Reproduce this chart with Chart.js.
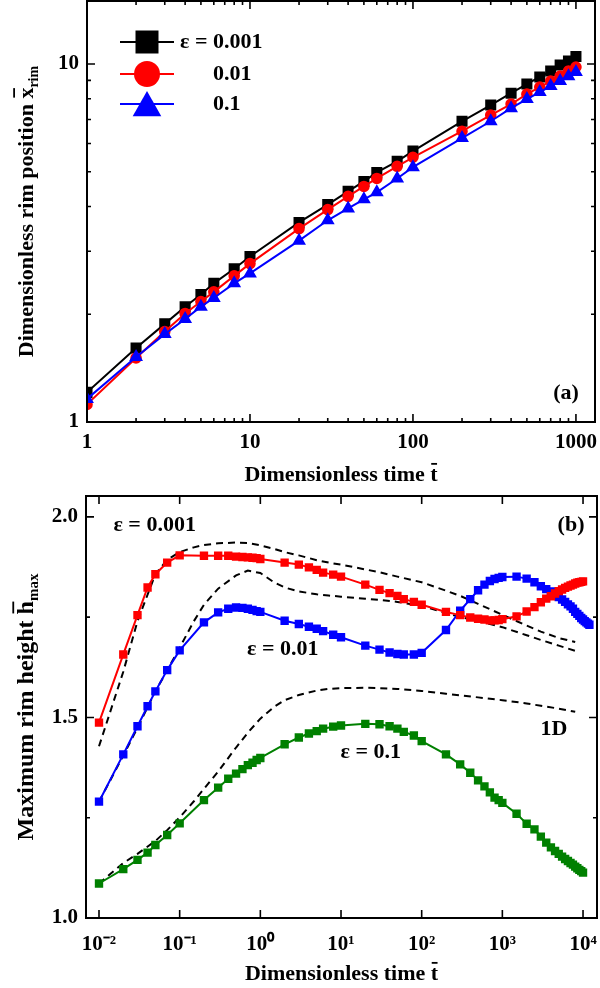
<!DOCTYPE html>
<html>
<head>
<meta charset="utf-8">
<script src="https://cdn.jsdelivr.net/npm/chart.js@4.4.1/dist/chart.umd.min.js"></script>
<style>
  html, body { margin: 0; padding: 0; background: #fff; }
  #wrap { position: relative; width: 600px; height: 988px; }
  canvas { position: absolute; left: 0; }
  #cA { top: 0; }
  #cB { top: 495px; }
</style>
</head>
<body>
<div id="wrap">
  <canvas id="cA" width="600" height="495"></canvas>
  <canvas id="cB" width="600" height="493"></canvas>
</div>
<script>
const FONT = '"Liberation Serif", "Times New Roman", serif';

// ---- panel (a): rim position vs time ----
const tA = [1, 2, 3, 4, 5, 6, 8, 10, 20, 30, 40, 50, 60, 80, 100, 200, 300, 400, 500, 600, 700, 800, 900, 1000];
const xrim001 = [1.21, 1.61, 1.88, 2.10, 2.27, 2.44, 2.68, 2.90, 3.61, 4.05, 4.41, 4.70, 4.98, 5.35, 5.71, 6.92, 7.68, 8.29, 8.79, 9.20, 9.56, 9.94, 10.2, 10.5];
const xrim01 = [1.12, 1.51, 1.79, 2.01, 2.17, 2.31, 2.56, 2.77, 3.47, 3.92, 4.27, 4.55, 4.79, 5.18, 5.49, 6.49, 7.20, 7.73, 8.24, 8.62, 8.96, 9.25, 9.56, 9.81];
const xrim1 = [1.16, 1.52, 1.76, 1.94, 2.10, 2.22, 2.44, 2.60, 3.21, 3.66, 3.95, 4.19, 4.38, 4.79, 5.15, 6.21, 6.92, 7.53, 7.98, 8.35, 8.68, 8.96, 9.25, 9.50];
const epsA = ['0.001', '0.01', '0.1'];
const tTicksA = [1, 10, 100, 1000];
const tLabelsA = ['1', '10', '100', '1000'];
const yTicksA = [1, 10];
const yLabelsA = ['1', '10'];

// ---- panel (b): max rim height vs time ----
const tB = [0.01, 0.02, 0.03, 0.04, 0.05, 0.07, 0.1, 0.2, 0.3, 0.4, 0.5, 0.6, 0.7, 0.8, 0.9, 1,
  2, 3, 4, 5, 6, 8, 10, 20, 30, 40, 50, 60, 80, 100, 200, 300, 400, 500, 600, 700, 800, 900, 1000,
  1500, 2000, 2500, 3000, 3500, 4000, 4500, 5000, 5500, 6000, 6500, 7000, 7500, 8000, 8500, 9000, 9500, 10000,
  10500, 11000, 11500, 12000];
const hmax001 = [1.487, 1.657, 1.755, 1.824, 1.857, 1.886, 1.904, 1.903, 1.903, 1.903, 1.901, 1.900, 1.899, 1.898, 1.897, 1.895,
  1.886, 1.881, 1.874, 1.868, 1.861, 1.856, 1.851, 1.831, 1.818, 1.810, 1.803, 1.795, 1.788, 1.781,
  1.763, 1.755, 1.749, 1.746, 1.744, 1.742, 1.742, 1.743, 1.745,
  1.752, 1.764, 1.775, 1.787, 1.796, 1.802, 1.809, 1.815, 1.819, 1.823, 1.826, 1.829, 1.831, 1.834, 1.836, 1.837, 1.838, 1.839];
const hmax01 = [1.290, 1.408, 1.478, 1.528, 1.565, 1.618, 1.667, 1.737, 1.762, 1.771, 1.774, 1.773, 1.771, 1.768, 1.765, 1.763,
  1.741, 1.733, 1.726, 1.721, 1.715, 1.706, 1.700, 1.679, 1.669, 1.662, 1.658, 1.657, 1.657, 1.661,
  1.718, 1.766, 1.795, 1.817, 1.831, 1.840, 1.845, 1.848, 1.850,
  1.851, 1.846, 1.837, 1.827, 1.820, 1.814, 1.807, 1.800, 1.794, 1.788, 1.782, 1.777, 1.771, 1.763, 1.758, 1.753, 1.748, 1.744,
  1.740, 1.737, 1.734, 1.731];
const hmax1 = [1.086, 1.122, 1.145, 1.163, 1.182, 1.207, 1.236, 1.294, 1.325, 1.347, 1.360, 1.371, 1.381, 1.387, 1.394, 1.399,
  1.433, 1.450, 1.460, 1.466, 1.472, 1.477, 1.480, 1.484, 1.483, 1.478, 1.472, 1.464, 1.455, 1.441,
  1.408, 1.383, 1.362, 1.343, 1.328, 1.313, 1.300, 1.294, 1.287,
  1.260, 1.235, 1.221, 1.203, 1.188, 1.176, 1.167, 1.160, 1.153, 1.147, 1.142, 1.137, 1.133, 1.128, 1.124, 1.120, 1.117, 1.113];
// 1D reference curves (dashed)
const tD = [0.01, 0.02, 0.03, 0.05, 0.07, 0.1, 0.15, 0.2, 0.3, 0.5, 0.7, 1, 1.5, 2, 3, 5, 7, 10, 20, 30, 50, 100, 200, 300, 500, 1000, 2000, 3000, 5000, 8000];
const h1D001 = [1.428, 1.614, 1.740, 1.857, 1.893, 1.912, 1.924, 1.930, 1.934, 1.936, 1.935, 1.929, 1.920, 1.912, 1.904, 1.892, 1.886, 1.881, 1.869, 1.862, 1.851, 1.837, 1.816, 1.803, 1.783, 1.756, 1.729, 1.714, 1.698, 1.688];
const h1D01 = [1.290, 1.405, 1.474, 1.565, 1.617, 1.674, 1.740, 1.781, 1.821, 1.854, 1.866, 1.860, 1.836, 1.824, 1.814, 1.807, 1.804, 1.801, 1.796, 1.793, 1.788, 1.778, 1.760, 1.750, 1.741, 1.725, 1.705, 1.693, 1.679, 1.666];
const h1D1 = [1.086, 1.137, 1.160, 1.192, 1.219, 1.251, 1.291, 1.322, 1.365, 1.425, 1.462, 1.497, 1.527, 1.543, 1.556, 1.567, 1.571, 1.573, 1.574, 1.573, 1.571, 1.566, 1.559, 1.555, 1.550, 1.543, 1.535, 1.529, 1.522, 1.514];
const tTicksB = [0.01, 0.1, 1, 10, 100, 1000, 10000];
const tLabelsB = ['10⁻²', '10⁻¹', '10⁰', '10¹', '10²', '10³', '10⁴'];
const yTicksB = [1.0, 1.5, 2.0];
const yLabelsB = ['1.0', '1.5', '2.0'];
const yMinorB = [1.25, 1.75];

const pts = (xs, ys) => ys.map((y, i) => ({ x: xs[i], y }));
const decadeMinors = decades => decades.flatMap(d => [2, 3, 4, 5, 6, 7, 8, 9].map(k => k * d));

// draws frame, inward ticks, axis titles, legend and text notes
const framePlugin = {
  id: 'frame',
  afterDraw(chart, args, o) {
    const { ctx, chartArea: a, scales } = chart;
    ctx.save();
    ctx.strokeStyle = '#000';
    ctx.fillStyle = '#000';
    ctx.lineWidth = 1.6;
    const xMarks = (vals, len) => vals.forEach(v => {
      const px = scales.x.getPixelForValue(v);
      if (px < a.left - 0.5 || px > a.right + 0.5) return;
      ctx.beginPath();
      ctx.moveTo(px, a.bottom); ctx.lineTo(px, a.bottom - len);
      ctx.moveTo(px, a.top); ctx.lineTo(px, a.top + len);
      ctx.stroke();
    });
    const yMarks = (vals, len) => vals.forEach(v => {
      const py = scales.y.getPixelForValue(v);
      if (py < a.top - 0.5 || py > a.bottom + 0.5) return;
      ctx.beginPath();
      ctx.moveTo(a.left, py); ctx.lineTo(a.left + len, py);
      ctx.moveTo(a.right, py); ctx.lineTo(a.right - len, py);
      ctx.stroke();
    });
    xMarks(o.xMajor, 8); xMarks(o.xMinor, 4);
    yMarks(o.yMajor, 8); yMarks(o.yMinor, 4);
    ctx.lineWidth = 2;
    ctx.strokeRect(a.left, a.top, a.right - a.left, a.bottom - a.top);

    richText(ctx, o.xTitle, (a.left + a.right) / 2, o.xTitleY, false);
    richText(ctx, o.yTitle, o.yTitleX, (a.top + a.bottom) / 2, true);

    ctx.font = 'bold 22px ' + FONT;
    ctx.textBaseline = 'middle';
    ctx.textAlign = 'center';
    (o.notes || []).forEach(n => {
      const x = n.t != null ? scales.x.getPixelForValue(n.t) : a.right - n.dr;
      const y = n.v != null ? scales.y.getPixelForValue(n.v) : a.bottom - n.db;
      ctx.fillText(n.text, x, y);
    });

    if (o.legend) drawLegend(chart, o.legend);
    ctx.restore();
  }
};

function richText(ctx, parts, cx, cy, rotate) {
  ctx.save();
  ctx.translate(cx, cy);
  if (rotate) ctx.rotate(-Math.PI / 2);
  ctx.textAlign = 'left';
  ctx.textBaseline = 'alphabetic';
  let w = 0;
  parts.forEach(p => {
    ctx.font = 'bold ' + p.size + 'px ' + FONT;
    p.w = ctx.measureText(p.text).width;
    w += p.w;
  });
  let x = -w / 2;
  parts.forEach(p => {
    ctx.font = 'bold ' + p.size + 'px ' + FONT;
    ctx.fillText(p.text, x, p.dy || 0);
    if (p.bar) ctx.fillRect(x + 1, -p.size * p.bar, p.w - 1.5, 1.8);
    x += p.w;
  });
  ctx.restore();
}

function drawMarker(ctx, style, x, y, r) {
  ctx.beginPath();
  if (style === 'rect') {
    ctx.rect(x - r, y - r, 2 * r, 2 * r);
  } else if (style === 'circle') {
    ctx.arc(x, y, r, 0, Math.PI * 2);
  } else {
    ctx.moveTo(x, y - r);
    ctx.lineTo(x + r * 1.1, y + r * 0.95);
    ctx.lineTo(x - r * 1.1, y + r * 0.95);
    ctx.closePath();
  }
  ctx.fill();
}

function drawLegend(chart, lg) {
  const { ctx, chartArea: a } = chart;
  ctx.font = 'bold 22px ' + FONT;
  ctx.textBaseline = 'middle';
  ctx.textAlign = 'left';
  const prefix = 'ε = ';
  const numX = a.left + lg.textLeft + ctx.measureText(prefix).width;
  chart.data.datasets.forEach((ds, i) => {
    const y = a.top + lg.rows[i];
    ctx.strokeStyle = ds.borderColor;
    ctx.fillStyle = ds.borderColor;
    ctx.lineWidth = 2;
    ctx.beginPath();
    ctx.moveTo(a.left + lg.lineFrom, y);
    ctx.lineTo(a.left + lg.lineTo, y);
    ctx.stroke();
    drawMarker(ctx, ds.pointStyle, a.left + (lg.lineFrom + lg.lineTo) / 2, y, lg.sizes[i]);
    ctx.fillStyle = '#000';
    if (i === 0) ctx.fillText(prefix, a.left + lg.textLeft, y);
    ctx.fillText(epsA[i], numX, y);
  });
}

const tickFont = { family: FONT, size: 21, weight: 'bold' };

function logX(min, max, ticks, labels, pad, height) {
  return {
    type: 'logarithmic', min, max,
    grid: { display: false, drawTicks: false }, border: { display: false },
    afterBuildTicks: s => { s.ticks = ticks.map(v => ({ value: v })); },
    ticks: { autoSkip: false, maxRotation: 0, padding: pad, color: '#000', font: tickFont,
      callback: (v, i) => labels[i] },
    afterFit: s => { s.height = height; s.paddingLeft = 0; s.paddingRight = 0; }
  };
}
function yAxis(type, min, max, ticks, labels, width) {
  return {
    type, min, max,
    grid: { display: false, drawTicks: false }, border: { display: false },
    afterBuildTicks: s => { s.ticks = ticks.map(v => ({ value: v })); },
    ticks: { autoSkip: false, padding: 8, color: '#000', font: tickFont,
      callback: (v, i) => labels[i] },
    afterFit: s => { s.width = width; s.paddingTop = 0; s.paddingBottom = 0; }
  };
}

const common = {
  responsive: false, animation: false, devicePixelRatio: 1,
  events: [],
  plugins: { legend: { display: false }, tooltip: { enabled: false } }
};

new Chart(document.getElementById('cA'), {
  type: 'line',
  data: {
    datasets: [
      { label: 'ε = 0.001', data: pts(tA, xrim001), borderColor: '#000000', backgroundColor: '#000000',
        pointStyle: 'rect', pointRadius: 6.4, borderWidth: 2, order: 2 },
      { label: 'ε = 0.01', data: pts(tA, xrim01), borderColor: '#ff0000', backgroundColor: '#ff0000',
        pointStyle: 'circle', pointRadius: 4.8, borderWidth: 2, order: 1 },
      { label: 'ε = 0.1', data: pts(tA, xrim1), borderColor: '#0000ff', backgroundColor: '#0000ff',
        pointStyle: 'triangle', pointRadius: 6, borderWidth: 2, order: 0 }
    ]
  },
  options: {
    ...common,
    layout: { autoPadding: false, padding: { top: 1, right: 5, left: 0, bottom: 0 } },
    scales: {
      x: logX(1, 1309, tTicksA, tLabelsA, 8, 73),
      y: yAxis('logarithmic', 1, 15, yTicksA, yLabelsA, 87)
    },
    plugins: {
      ...common.plugins,
      frame: {
        xMajor: tTicksA, xMinor: decadeMinors([1, 10, 100]),
        yMajor: yTicksA, yMinor: decadeMinors([1]),
        xTitle: [{ text: 'Dimensionless time ', size: 22 }, { text: 't', size: 22, bar: 0.82 }],
        xTitleY: 481,
        yTitle: [{ text: 'Dimensionless rim position ', size: 22 }, { text: 'x', size: 22, bar: 0.9 },
                 { text: 'rim', size: 14, dy: 5 }],
        yTitleX: 33,
        notes: [{ text: '(a)', dr: 29, db: 29 }],
        legend: { lineFrom: 33, lineTo: 87, textLeft: 93, rows: [41, 73, 103], sizes: [11.5, 13, 13] }
      }
    }
  },
  plugins: [framePlugin]
});

const dashed = { borderColor: '#000000', borderWidth: 2, borderDash: [7, 5], pointRadius: 0, order: 5 };

new Chart(document.getElementById('cB'), {
  type: 'line',
  data: {
    datasets: [
      { label: '1D ε = 0.001', data: pts(tD, h1D001), ...dashed },
      { label: '1D ε = 0.01', data: pts(tD, h1D01), ...dashed },
      { label: '1D ε = 0.1', data: pts(tD, h1D1), ...dashed },
      { label: 'ε = 0.001', data: pts(tB, hmax001), borderColor: '#ff0000', backgroundColor: '#ff0000',
        pointStyle: 'rect', pointRadius: 4.5, borderWidth: 2, order: 1 },
      { label: 'ε = 0.01', data: pts(tB, hmax01), borderColor: '#0000ff', backgroundColor: '#0000ff',
        pointStyle: 'rect', pointRadius: 4.5, borderWidth: 2, order: 2 },
      { label: 'ε = 0.1', data: pts(tB, hmax1), borderColor: '#008000', backgroundColor: '#008000',
        pointStyle: 'rect', pointRadius: 4.5, borderWidth: 2, order: 3 }
    ]
  },
  options: {
    ...common,
    layout: { autoPadding: false, padding: { top: 1, right: 3, left: 0, bottom: 0 } },
    scales: {
      x: logX(0.0069, 14900, tTicksB, tLabelsB, 14, 70),
      y: yAxis('linear', 1.0, 2.052, yTicksB, yLabelsB, 86)
    },
    plugins: {
      ...common.plugins,
      frame: {
        xMajor: tTicksB, xMinor: [],
        yMajor: yTicksB, yMinor: yMinorB,
        xTitle: [{ text: 'Dimensionless time ', size: 22 }, { text: 't', size: 22, bar: 0.82 }],
        xTitleY: 485,
        yTitle: [{ text: 'Maximum rim height ', size: 24 }, { text: 'h', size: 24, bar: 0.86 },
                 { text: 'max', size: 15, dy: 5 }],
        yTitleX: 33,
        notes: [
          { text: 'ε = 0.001', t: 0.049, v: 1.98 },
          { text: 'ε = 0.01', t: 1.9, v: 1.669 },
          { text: 'ε = 0.1', t: 23.4, v: 1.413 },
          { text: '1D', t: 4360, v: 1.47 },
          { text: '(b)', t: 7100, v: 1.98 }
        ]
      }
    }
  },
  plugins: [framePlugin]
});
</script>
</body>
</html>
